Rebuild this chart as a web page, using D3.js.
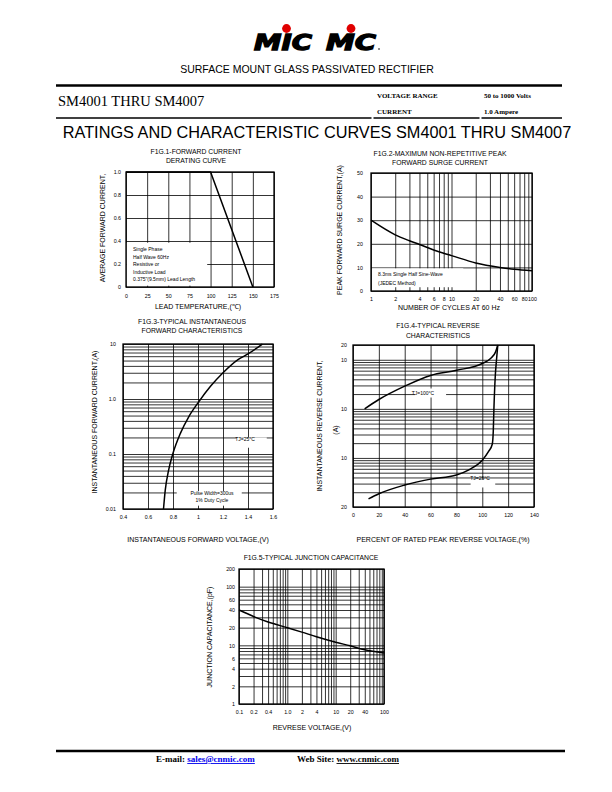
<!doctype html>
<html>
<head>
<meta charset="utf-8">
<title>SM4001 THRU SM4007</title>
<script src="https://cdn.jsdelivr.net/npm/d3@7"></script>
<style>
    body { margin: 0; background: #fff; }
    svg text { font-family: "Liberation Sans", Arial, sans-serif; fill: #000; }
    svg .serif { font-family: "Liberation Serif", "Times New Roman", serif; }
</style>
</head>
<body>
<svg id="page" width="612" height="792"></svg>

<script>
    /* --- data --- */

    // Fig.1 forward current derating
    var fig1Temp    = [0, 100, 150];
    var fig1Current = [1.0, 1.0, 0];
    var fig1XTicks  = [0, 25, 50, 75, 100, 125, 150, 175];
    var fig1YTicks  = [0, 0.2, 0.4, 0.6, 0.8, 1.0];
    var fig1YLabels = ['0', '0.2', '0.4', '0.6', '0.8', '1.0'];

    // Fig.2 surge current
    var fig2Cycles  = [1, 2, 3, 4, 6, 8, 10, 20, 40, 60, 100];
    var fig2Amps    = [30, 23.8, 21.3, 19.7, 17.4, 16, 15, 11.9, 10, 9.2, 8.6];
    var fig2XTicks  = [1, 2, 4, 6, 8, 10, 20, 40, 60, 80, 100];
    var fig2YTicks  = [0, 10, 20, 30, 40, 50];

    // Fig.3 forward characteristics
    var fig3Volts   = [0.724, 0.738, 0.765, 0.80, 0.86, 0.927, 1.0, 1.10, 1.2, 1.32, 1.4, 1.515];
    var fig3Amps    = [0.01, 0.022, 0.051, 0.103, 0.24, 0.48, 0.85, 1.7, 3.0, 5.2, 6.6, 10];
    var fig3XTicks  = [0.4, 0.6, 0.8, 1.0, 1.2, 1.4, 1.6];
    var fig3YTicks  = [0.01, 0.1, 1, 10];
    var fig3YLabels = ['0.01', '0.1', '1.0', '10'];

    // Fig.4 reverse characteristics
    var fig4Pct100  = [9, 20, 40, 60, 80, 100, 106.4, 110.3, 112];
    var fig4Cur100  = [1.0, 1.55, 2.9, 4.8, 6.1, 8.4, 10.6, 14.5, 20];
    var fig4Pct25   = [12, 20, 40, 60, 80, 90, 100, 105, 107.7, 108.5, 109, 110, 111, 112];
    var fig4Cur25   = [0.0146, 0.0186, 0.028, 0.037, 0.045, 0.058, 0.09, 0.137, 0.19, 0.35, 1.0, 4.4, 10, 20];
    var fig4XTicks  = [0, 20, 40, 60, 80, 100, 120, 140];
    var fig4YTicks  = [0.01, 0.1, 1, 10, 20];
    var fig4YLabels = ['20', '10', '10', '10', '20'];

    // Fig.5 junction capacitance
    var fig5Volts   = [0.1, 0.2, 0.4, 1, 2, 4, 10, 20, 40, 100];
    var fig5Cap     = [40, 31, 25, 20, 16.8, 14, 11.3, 9.8, 8.4, 7.4];
    var fig5XTicks  = [0.1, 0.2, 0.4, 1, 2, 4, 10, 20, 40, 100];
    var fig5XLabels = ['0.1', '0.2', '0.4', '1.0', '2', '4', '10', '20', '40', '100'];
    var fig5YTicks  = [1, 2, 4, 6, 10, 20, 40, 60, 100, 200];

    var svg = d3.select('#page');

    /* --- header --- */

    // logo
    var logo = svg.append('g');
    [['MIC', 254, 58], ['MC', 326, 50]].forEach(function(l){
        logo.append('text').attr('x', l[1]).attr('y', 50)
            .attr('font-size', 21).attr('font-weight', 'bold').attr('font-style', 'italic')
            .attr('textLength', l[2]).attr('lengthAdjust', 'spacingAndGlyphs')
            .attr('stroke', '#000').attr('stroke-width', 1.3).attr('stroke-linejoin', 'miter')
            .style('font-family', '"DejaVu Sans", sans-serif').text(l[0]);
    });
    logo.append('circle').attr('cx', 286.5).attr('cy', 28.5).attr('r', 4.4).attr('fill', '#e00000');
    logo.append('circle').attr('cx', 351).attr('cy', 28.5).attr('r', 4.4).attr('fill', '#e00000');
    logo.append('circle').attr('cx', 379).attr('cy', 49).attr('r', 0.8).attr('fill', '#000');

    svg.append('text').attr('x', 307).attr('y', 73).attr('text-anchor', 'middle')
        .attr('font-size', 10.5).text('SURFACE MOUNT GLASS PASSIVATED RECTIFIER');

    svg.append('line').attr('x1', 56).attr('x2', 562).attr('y1', 85.5).attr('y2', 85.5)
        .attr('stroke', '#000').attr('stroke-width', 2.6);
    [[56, 371.5], [373.5, 479.5], [481.5, 562]].forEach(function(s){
        svg.append('line').attr('x1', s[0]).attr('x2', s[1]).attr('y1', 118).attr('y2', 118)
            .attr('stroke', '#000').attr('stroke-width', 1.6);
    });

    svg.append('text').attr('class', 'serif').attr('x', 58).attr('y', 106)
        .attr('font-size', 14.5).text('SM4001 THRU SM4007');
    svg.append('text').attr('class', 'serif').attr('x', 377).attr('y', 97.5)
        .attr('font-size', 7).attr('font-weight', 'bold').text('VOLTAGE RANGE');
    svg.append('text').attr('class', 'serif').attr('x', 377).attr('y', 113.5)
        .attr('font-size', 7).attr('font-weight', 'bold').text('CURRENT');
    svg.append('text').attr('class', 'serif').attr('x', 484).attr('y', 97.5)
        .attr('font-size', 7).attr('font-weight', 'bold').text('50 to 1000 Volts');
    svg.append('text').attr('class', 'serif').attr('x', 484).attr('y', 113.5)
        .attr('font-size', 7).attr('font-weight', 'bold').text('1.0 Ampere');

    svg.append('text').attr('x', 317).attr('y', 138).attr('text-anchor', 'middle')
        .attr('font-size', 16.3).text('RATINGS AND CHARACTERISTIC CURVES SM4001 THRU SM4007');

    /* --- one chart panel --- */

    function panel(o){
        var g = svg.append('g');
        var x = (o.xLog ? d3.scaleLog() : d3.scaleLinear()).domain(o.xDomain).range([o.left, o.left + o.w]);
        var y = (o.yLog ? d3.scaleLog() : d3.scaleLinear()).domain(o.yDomain).range([o.top + o.h, o.top]);

        // grid
        var gx = g.append('g').attr('transform', 'translate(0,' + (o.top + o.h) + ')')
            .call(d3.axisBottom(x).tickValues(o.xGrid || x.ticks()).tickSize(-o.h).tickFormat(''));
        var gy = g.append('g').attr('transform', 'translate(' + o.left + ',0)')
            .call(d3.axisLeft(y).tickValues(o.yGrid || y.ticks()).tickSize(-o.w).tickFormat(''));
        [gx, gy].forEach(function(s){
            s.select('.domain').remove();
            s.selectAll('line').attr('stroke', '#000').attr('stroke-width', 0.8);
        });

        // white boxes behind notes
        (o.boxes || []).forEach(function(b){
            g.append('rect')
                .attr('x', x(b.x0)).attr('y', y(b.y1))
                .attr('width', x(b.x1) - x(b.x0)).attr('height', y(b.y0) - y(b.y1))
                .attr('fill', '#fff');
        });

        g.append('rect').attr('x', o.left).attr('y', o.top).attr('width', o.w).attr('height', o.h)
            .attr('fill', 'none').attr('stroke', '#000').attr('stroke-width', 1.3);

        // tick labels
        var ax = g.append('g').attr('transform', 'translate(0,' + (o.top + o.h) + ')')
            .call(d3.axisBottom(x).tickValues(o.xTicks).tickSize(0).tickPadding(o.xPad || 6)
                .tickFormat(function(d, i){ return o.xLabels ? o.xLabels[i] : d; }));
        var ay = g.append('g').attr('transform', 'translate(' + o.left + ',0)')
            .call(d3.axisLeft(y).tickValues(o.yTicks).tickSize(0).tickPadding(o.yPad || 5)
                .tickFormat(function(d, i){ return o.yLabels ? o.yLabels[i] : d; }));
        [ax, ay].forEach(function(s){
            s.select('.domain').remove();
            s.attr('font-size', 5.3).attr('font-family', '"Liberation Sans", Arial, sans-serif');
            s.selectAll('text').attr('fill', '#333');
        });

        // curves
        o.series.forEach(function(s){
            var pts = s.x.map(function(v, i){ return [v, s.y[i]]; });
            g.append('path').datum(pts)
                .attr('fill', 'none').attr('stroke', '#000').attr('stroke-width', 1.5)
                .attr('d', d3.line()
                    .x(function(d){ return x(d[0]); })
                    .y(function(d){ return y(d[1]); })
                    .curve(s.linear ? d3.curveLinear : d3.curveMonotoneX));
        });

        // titles
        o.title.forEach(function(t, i){
            g.append('text').attr('x', o.titleX).attr('y', o.titleY + i * 9.5)
                .attr('text-anchor', 'middle').attr('font-size', 6.8).text(t);
        });
        g.append('text').attr('x', o.xTitle[1]).attr('y', o.xTitle[2])
            .attr('text-anchor', 'middle').attr('font-size', 7).text(o.xTitle[0]);
        o.yTitle.forEach(function(t){
            g.append('text').attr('transform', 'translate(' + t[1] + ',' + t[2] + ') rotate(-90)')
                .attr('text-anchor', 'middle').attr('font-size', 7).text(t[0]);
        });

        // notes
        (o.notes || []).forEach(function(n){
            g.append('text').attr('x', n[1]).attr('y', n[2])
                .attr('text-anchor', n[3] || 'start').attr('font-size', 5).attr('fill', '#222').text(n[0]);
        });
        return g;
    }

    panel({
        left: 126, top: 172, w: 148, h: 115,
        xDomain: [0, 175], yDomain: [0, 1.0],
        xGrid: fig1XTicks, yGrid: fig1YTicks,
        xTicks: fig1XTicks, yTicks: fig1YTicks, yLabels: fig1YLabels, xPad: 7,
        boxes: [{x0: 0.8, x1: 96, y0: 0.012, y1: 0.385}],
        series: [{x: fig1Temp, y: fig1Current, linear: true}],
        title: ['F1G.1-FORWARD CURRENT', 'DERATING CURVE'], titleX: 196, titleY: 153.5,
        xTitle: ['LEAD TEMPERATURE,(\u2103)', 198, 309],
        yTitle: [['AVERAGE FORWARD CURRENT,', 105, 228]],
        notes: [['Single Phase', 133, 251], ['Half Wave 60Hz', 133, 258.5],
                ['Resistive or', 133, 266], ['Inductive Load', 133, 273.5],
                ['0.375"(9.5mm) Lead Length', 133, 281]]
    });

    panel({
        left: 371, top: 173, w: 161, h: 118,
        xLog: true, xDomain: [1, 100], yDomain: [0, 50],
        yGrid: fig2YTicks,
        xTicks: fig2XTicks, yTicks: fig2YTicks, yPad: 8,
        boxes: [{x0: 1.03, x1: 14, y0: 1.6, y1: 9.6}],
        series: [{x: fig2Cycles, y: fig2Amps}],
        title: ['F1G.2-MAXIMUM NON-REPETITIVE PEAK', 'FORWARD SURGE CURRENT'], titleX: 440, titleY: 155.5,
        xTitle: ['NUMBER OF CYCLES AT 60 Hz', 449, 310],
        yTitle: [['PEAK FORWARD SURGE CURRENT,(A)', 342, 230]],
        notes: [['8.3ms Single Half Sine-Wave', 378, 276], ['(JEDEC Method)', 378, 284.5]]
    });

    panel({
        left: 123, top: 344, w: 150, h: 165,
        xDomain: [0.4, 1.6], yLog: true, yDomain: [0.01, 10],
        xGrid: fig3XTicks,
        xTicks: fig3XTicks, yTicks: fig3YTicks, yLabels: fig3YLabels, yPad: 7,
        boxes: [{x0: 1.31, x1: 1.55, y0: 0.13, y1: 0.2},
                {x0: 0.83, x1: 1.35, y0: 0.0115, y1: 0.021}],
        series: [{x: fig3Volts, y: fig3Amps}],
        title: ['F1G.3-TYPICAL INSTANTANEOUS', 'FORWARD CHARACTERISTICS'], titleX: 192, titleY: 323.5,
        xTitle: ['INSTANTANEOUS FORWARD VOLTAGE,(V)', 198, 542],
        yTitle: [['INSTANTANEOUS FORWARD CURRENT,(A)', 97, 422]],
        notes: [['TJ=25\u00B0C', 245, 441, 'middle'],
                ['Pulse Width=300us', 212, 495, 'middle'], ['1% Duty Cycle', 212, 501.5, 'middle']]
    });

    panel({
        left: 353, top: 345, w: 181, h: 162,
        xDomain: [0, 140], yLog: true, yDomain: [0.01, 20],
        xGrid: fig4XTicks,
        xTicks: fig4XTicks, yTicks: fig4YTicks, yLabels: fig4YLabels, yPad: 6,
        boxes: [{x0: 48, x1: 72, y0: 1.7, y1: 2.6},
                {x0: 91, x1: 110, y0: 0.025, y1: 0.037}],
        series: [{x: fig4Pct100, y: fig4Cur100}, {x: fig4Pct25, y: fig4Cur25}],
        title: ['F1G.4-TYPICAL REVERSE', 'CHARACTERISTICS'], titleX: 438, titleY: 328,
        xTitle: ['PERCENT OF RATED PEAK REVERSE VOLTAGE,(%)', 443, 542],
        yTitle: [['INSTANTANEOUS REVERSE CURRENT,', 322, 426], ['(A)', 338, 430]],
        notes: [['TJ=100\u00B0C', 423, 394.5, 'middle'], ['TJ=25\u00B0C', 480, 480, 'middle']]
    });

    panel({
        left: 239, top: 569, w: 145, h: 135,
        xLog: true, xDomain: [0.1, 100], yLog: true, yDomain: [1, 200],
        xTicks: fig5XTicks, xLabels: fig5XLabels, yTicks: fig5YTicks, yPad: 4,
        series: [{x: fig5Volts, y: fig5Cap}],
        title: ['F1G.5-TYPICAL JUNCTION CAPACITANCE'], titleX: 311, titleY: 559.5,
        xTitle: ['REVRESE VOLTAGE,(V)', 312, 730],
        yTitle: [['JUNCTION CAPACITANCE,(pF)', 212, 637]]
    });

    /* --- footer --- */

    svg.append('line').attr('x1', 56).attr('x2', 565).attr('y1', 751).attr('y2', 751)
        .attr('stroke', '#000').attr('stroke-width', 2.4);
    var foot = svg.append('text').attr('class', 'serif').attr('x', 156).attr('y', 762)
        .attr('font-size', 9).attr('font-weight', 'bold');
    foot.append('tspan').text('E-mail: ');
    foot.append('tspan').attr('fill', '#0000ee').attr('text-decoration', 'underline').text('sales@cnmic.com');
    var web = svg.append('text').attr('class', 'serif').attr('x', 297).attr('y', 762)
        .attr('font-size', 9).attr('font-weight', 'bold');
    web.append('tspan').text('Web Site: ');
    web.append('tspan').attr('text-decoration', 'underline').text('www.cnmic.com');
</script>
</body>
</html>
